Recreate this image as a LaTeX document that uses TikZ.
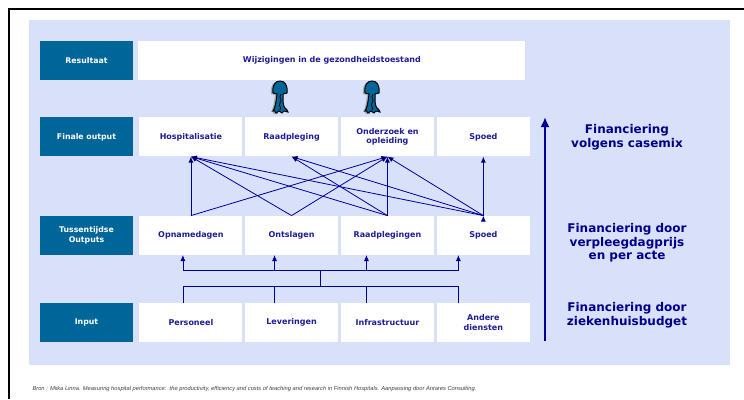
\documentclass[tikz,border=0pt]{standalone}
\usepackage{fontspec}
\setmainfont{DejaVu Sans}
\newfontfamily\bronfont{Liberation Sans}
\usetikzlibrary{arrows,arrows.meta,positioning}

\definecolor{bgblue}{RGB}{217,224,249}
\definecolor{labblue}{RGB}{0,102,153}
\definecolor{celltext}{RGB}{30,30,150}
\definecolor{linecol}{RGB}{0,0,153}
\definecolor{fintext}{RGB}{0,0,140}

\tikzset{
  labelbox/.style={fill=labblue,text=white,font=\bfseries\fontsize{7.8}{9.5}\selectfont,
    minimum width=93pt,minimum height=39pt,inner sep=0pt,align=center},
  cellbox/.style={fill=white,text=celltext,font=\bfseries\fontsize{8}{9.5}\selectfont,
    minimum width=93.5pt,minimum height=39pt,inner sep=0pt,align=center},
  fintxt/.style={text=fintext,font=\bfseries\fontsize{12}{13.5}\selectfont,align=center},
  link/.style={draw=linecol,line width=0.8pt},
  upicon/.pic={
    \fill[gray!70] (-5,14) -- (-9,13) .. controls (-10,3) and (-6,1) .. (-2,1)
      -- (-2,33) -- (-6,33) .. controls (-7,31) and (-8,30) .. (-9,31)
      .. controls (-7,28) and (-6,22) .. (-5,14) -- cycle;
    \filldraw[fill=labblue,draw=black,line width=1pt]
      (-3,13) -- (-7,12) .. controls (-8,3) and (-4,0) .. (0,0)
      .. controls (4,0) and (8,3) .. (7,12) -- (3,13)
      .. controls (3,20) and (3,25) .. (5,27) .. controls (6,28) and (8,29) .. (8,31)
      -- (4,30) -- (2,32) -- (-1,30) -- (-4,32)
      .. controls (-5,30) and (-6,29) .. (-7,30)
      .. controls (-5,27) and (-4,22) .. (-3,13) -- cycle;
    \draw[black,line width=0.8pt] (1,13) .. controls (-2,17) and (3,19) .. (0,22)
      .. controls (-2,25) and (2,26) .. (0,29);
  }
}

\begin{document}
\begin{tikzpicture}[x=1pt,y=-1pt,>={Latex[length=6pt,width=5pt]}]
  \useasboundingbox (0,0) rectangle (744,399);
  \draw[line width=2pt] (9,399) -- (9,9) -- (744,9);
  \fill[bgblue] (29,20) rectangle (730,365);

  % rows
  \node[labelbox] (res) at (86.5,60.5) {Resultaat};
  \node[cellbox,minimum width=387pt,right=5pt of res] (wijz) {Wijzigingen in de gezondheidstoestand};

  \node[labelbox,below=37pt of res] (fin) {Finale output};
  \node[cellbox,minimum width=103pt,right=6pt of fin] (hosp) {Hospitalisatie};
  \node[cellbox,right=2pt of hosp] (raad) {Raadpleging};
  \node[cellbox,right=2pt of raad] (ond) {Onderzoek en\\opleiding};
  \node[cellbox,right=2pt of ond] (spf) {Spoed};

  \node[labelbox,below=59pt of fin] (tus) {Tussentijdse\\Outputs};
  \node[cellbox,minimum width=103pt,right=6pt of tus] (opn) {Opnamedagen};
  \node[cellbox,right=2pt of opn] (ont) {Ontslagen};
  \node[cellbox,right=2pt of ont] (rdpl) {Raadplegingen};
  \node[cellbox,right=2pt of rdpl] (spt) {Spoed};

  \node[labelbox,below=48pt of tus] (inp) {Input};
  \node[cellbox,minimum width=103pt,right=6pt of inp] (pers) {Personeel};
  \node[cellbox,right=2pt of pers] (lev) {Leveringen};
  \node[cellbox,right=2pt of lev] (infra) {Infrastructuur};
  \node[cellbox,right=2pt of infra] (andr) {Andere\\diensten};

  % icons
  \pic at (280,81) {upicon};
  \pic at (372,81) {upicon};

  % from intermediate to final outputs
  \path[link,->] (opn.north) edge (hosp.south)
                 (opn.north) edge (ond.south)
                 (ont.north) edge (hosp.south)
                 (ont.north) edge (ond.south)
                 (rdpl.north) edge (hosp.south)
                 (rdpl.north) edge (raad.south)
                 (rdpl.north) edge (ond.south)
                 (spt.north) edge (hosp.south)
                 (spt.north) edge (raad.south)
                 (spt.north) edge (ond.south)
                 (spt.north) edge (spf.south);

  % from input to intermediate outputs
  \coordinate (lowbus) at (320,286);
  \coordinate (upbus) at (320,270);
  \draw[link] (upbus) -- (lowbus);
  \draw[link] ([xshift=-8pt]pers.north) |- (lowbus);
  \draw[link] ([xshift=-25pt]andr.north) |- (lowbus);
  \draw[link] ([xshift=-17pt]lev.north) -- ([xshift=-17pt]lev.north |- lowbus);
  \draw[link] ([xshift=-21pt]infra.north) -- ([xshift=-21pt]infra.north |- lowbus);
  \draw[link,->] (upbus) -| ([xshift=-8pt]opn.south);
  \draw[link,->] (upbus) -| ([xshift=-25pt]spt.south);
  \draw[link,->] ([xshift=-17pt]ont.south |- upbus) -- ([xshift=-17pt]ont.south);
  \draw[link,->] ([xshift=-21pt]rdpl.south |- upbus) -- ([xshift=-21pt]rdpl.south);

  % financing axis
  \coordinate (axlow) at (545,341);
  \coordinate (axhigh) at (545,117);
  \draw[draw=linecol,line width=2.5pt,-{Latex[length=10pt,width=9pt]}] (axlow) -- (axhigh);
  \node[fintxt] (casemix) at (627,137) {Financiering\\volgens casemix};
  \node[fintxt] (prijs) at (627,243) {Financiering door\\verpleegdagprijs\\en per acte};
  \node[fintxt] (budget) at (627,315) {Financiering door\\ziekenhuisbudget};

  \node[anchor=west,text=black!75,font=\bronfont\itshape\fontsize{5.75}{6.5}\selectfont] (bron) at (29,389)
    {Bron : Miika Linna. Measuring hospital performance:\ \ the productivity, efficiency and costs of teaching and research in Finnish Hospitals. Aanpassing door Antares Consulting.};
\end{tikzpicture}
\end{document}
